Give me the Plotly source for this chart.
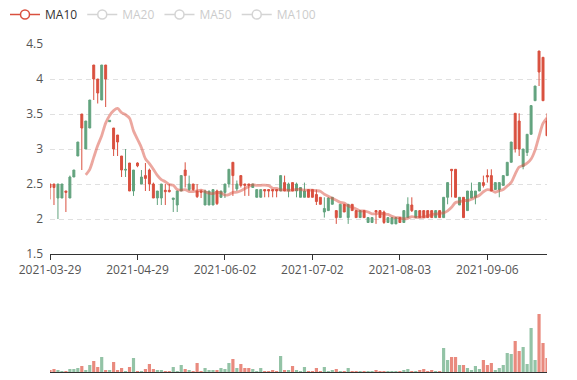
import plotly.graph_objects as go
import pandas as pd

# ---------------- data ----------------
holidays = ['2021-04-05', '2021-05-03', '2021-05-04', '2021-08-16', '2021-08-17']
dates = [d.strftime('%Y-%m-%d') for d in pd.bdate_range('2021-03-29', '2021-09-27')
         if d.strftime('%Y-%m-%d') not in holidays]

tick_labels = ['2021-03-29', '2021-04-29', '2021-06-02', '2021-07-02', '2021-08-03', '2021-09-06']

open_ = [2.45, 2.45, 2.50, 2.50, 2.38, 2.60, 2.70, 3.10, 3.30, 3.40,
         3.70, 4.00, 3.80, 4.20, 4.00, 3.41, 3.00, 3.10, 2.70, 2.71,
         2.40, 2.70, 2.76, 2.60, 2.58, 2.50, 2.30, 2.40, 2.50, 2.39,
         2.39, 2.30, 2.40, 2.62, 2.62, 2.50, 2.42, 2.32, 2.38, 2.40,
         2.40, 2.42, 2.22, 2.40, 2.50, 2.71, 2.62, 2.50, 2.48, 2.48,
         2.48, 2.50, 2.42, 2.42, 2.40, 2.40, 2.40, 2.40, 2.62, 2.40,
         2.50, 2.40, 2.50, 2.45, 2.40, 2.31, 2.31, 2.25, 2.21, 2.15,
         2.30, 2.31, 2.02, 2.21, 2.10, 2.21, 2.12, 2.02, 2.12, 2.02,
         2.02, 2.02, 2.10, 2.02, 1.95, 2.02, 2.02, 2.02, 1.95, 2.12,
         2.21, 2.12, 2.12, 2.02, 2.02, 2.02, 2.02, 2.12, 2.02, 2.31,
         2.52, 2.69, 2.31, 2.31, 2.02, 2.40, 2.40, 2.40, 2.52, 2.48,
         2.60, 2.40, 2.52, 2.52, 2.62, 2.81, 3.10, 3.00, 3.00, 3.00,
         3.21, 3.62, 3.90, 4.10, 3.69, 3.19]
high = [2.50, 2.50, 2.50, 2.50, 2.40, 2.62, 2.70, 3.10, 3.50, 3.40,
        3.70, 4.20, 4.00, 4.20, 4.20, 3.41, 3.30, 3.20, 2.90, 3.00,
        2.80, 2.70, 2.81, 2.70, 2.80, 2.72, 2.52, 2.40, 2.50, 2.50,
        2.50, 2.30, 2.40, 2.62, 2.81, 2.62, 2.50, 2.50, 2.42, 2.42,
        2.40, 2.42, 2.42, 2.40, 2.50, 2.71, 2.81, 2.55, 2.62, 2.50,
        2.50, 2.50, 2.42, 2.42, 2.42, 2.42, 2.42, 2.42, 2.62, 2.62,
        2.52, 2.52, 2.52, 2.45, 2.52, 2.42, 2.42, 2.42, 2.31, 2.31,
        2.31, 2.31, 2.12, 2.21, 2.21, 2.21, 2.21, 2.12, 2.12, 2.12,
        2.02, 2.02, 2.12, 2.12, 2.12, 2.02, 2.02, 2.02, 2.02, 2.12,
        2.31, 2.31, 2.12, 2.12, 2.12, 2.12, 2.12, 2.12, 2.12, 2.31,
        2.52, 2.71, 2.71, 2.31, 2.31, 2.40, 2.52, 2.40, 2.52, 2.62,
        2.71, 2.71, 2.52, 2.52, 2.62, 2.81, 3.10, 3.51, 3.51, 3.00,
        3.21, 3.62, 3.90, 4.40, 4.31, 3.51]
low = [2.28, 2.20, 2.00, 2.30, 2.10, 2.30, 2.60, 2.90, 2.70, 3.00,
       3.30, 3.70, 3.65, 3.70, 3.60, 3.39, 2.90, 2.90, 2.60, 2.60,
       2.40, 2.33, 2.74, 2.50, 2.40, 2.40, 2.30, 2.20, 2.20, 2.20,
       2.38, 2.10, 2.10, 2.40, 2.45, 2.40, 2.40, 2.30, 2.30, 2.20,
       2.20, 2.20, 2.20, 2.30, 2.30, 2.45, 2.33, 2.40, 2.45, 2.33,
       2.33, 2.45, 2.31, 2.31, 2.31, 2.31, 2.31, 2.31, 2.40, 2.40,
       2.31, 2.40, 2.31, 2.31, 2.31, 2.31, 2.31, 2.20, 2.21, 2.02,
       2.12, 2.21, 1.93, 2.02, 2.10, 1.93, 2.12, 2.02, 2.02, 2.02,
       1.95, 1.95, 1.93, 2.02, 1.93, 1.95, 1.93, 1.93, 1.95, 1.95,
       2.02, 2.10, 2.02, 2.02, 2.02, 2.02, 2.02, 2.02, 2.02, 2.02,
       2.21, 2.31, 2.31, 2.20, 2.02, 2.12, 2.30, 2.21, 2.40, 2.45,
       2.52, 2.40, 2.42, 2.31, 2.48, 2.62, 2.81, 2.95, 2.90, 2.71,
       2.90, 3.21, 3.69, 3.90, 3.69, 3.19]
close = [2.50, 2.50, 2.30, 2.30, 2.40, 2.30, 2.60, 2.90, 3.50, 3.00,
         3.30, 4.20, 4.00, 3.70, 4.20, 3.39, 3.30, 3.20, 2.90, 2.70,
         2.80, 2.40, 2.80, 2.50, 2.62, 2.70, 2.50, 2.30, 2.30, 2.41,
         2.41, 2.28, 2.20, 2.40, 2.70, 2.42, 2.50, 2.40, 2.40, 2.20,
         2.20, 2.20, 2.40, 2.31, 2.38, 2.50, 2.81, 2.43, 2.62, 2.50,
         2.50, 2.45, 2.31, 2.31, 2.42, 2.42, 2.42, 2.42, 2.40, 2.52,
         2.40, 2.52, 2.40, 2.31, 2.31, 2.42, 2.42, 2.35, 2.31, 2.10,
         2.12, 2.21, 2.12, 2.02, 2.21, 2.02, 2.21, 2.12, 2.02, 2.12,
         1.95, 1.95, 2.12, 2.12, 2.10, 1.95, 1.93, 1.93, 2.02, 1.95,
         2.02, 2.20, 2.02, 2.12, 2.12, 2.12, 2.12, 2.02, 2.12, 2.02,
         2.31, 2.71, 2.71, 2.20, 2.31, 2.12, 2.30, 2.31, 2.40, 2.52,
         2.62, 2.62, 2.42, 2.42, 2.48, 2.62, 2.81, 3.51, 3.40, 2.75,
         2.95, 3.21, 3.69, 4.40, 4.31, 3.40]
# volume, millions
volume = [0.2, 0.3, 0.2, 0.1, 0.1, 0.3, 0.3, 0.4, 0.6, 0.2,
          0.7, 1.1, 0.5, 1.5, 0.2, 0.2, 1.0, 0.2, 0.4, 0.1,
          0.5, 1.4, 0.1, 0.05, 0.3, 0.8, 0.3, 0.2, 0.2, 0.1,
          0.1, 0.5, 0.1, 0.7, 0.3, 0.2, 0.1, 0.9, 0.05, 0.4,
          0.2, 0.2, 0.2, 0.4, 0.3, 0.9, 1.3, 0.4, 0.8, 0.4,
          0.4, 0.3, 0.1, 0.4, 0.05, 0.1, 0.15, 0.1, 1.6, 0.2,
          0.2, 0.6, 0.2, 0.1, 0.5, 0.1, 0.1, 0.4, 0.1, 0.5,
          0.1, 0.2, 0.3, 0.1, 0.03, 0.4, 0.03, 0.1, 0.1, 0.03,
          0.03, 0.1, 0.2, 0.1, 0.03, 0.1, 0.03, 0.03, 0.1, 0.2,
          0.3, 0.1, 0.03, 0.2, 0.3, 0.1, 0.2, 0.1, 0.03, 2.4,
          1.2, 1.5, 1.5, 0.7, 0.7, 0.4, 0.2, 0.6, 0.3, 1.2,
          0.7, 0.9, 0.2, 0.4, 0.7, 1.9, 1.8, 3.1, 2.1, 2.5,
          0.8, 4.4, 1.2, 5.8, 2.9, 1.4]

ma_windows = [10, 20, 50, 100]

# ---------------- styles ----------------
UP = '#d9503f'
DOWN = '#62a37e'
UP_VOL = '#e98a7e'
DOWN_VOL = '#93c3a6'
MA_LINE = 'rgba(217,80,63,0.5)'

closes = pd.Series(close)
ma = {n: closes.rolling(n).mean() for n in ma_windows}

fig = go.Figure()

fig.add_trace(go.Candlestick(
    x=dates, open=open_, high=high, low=low, close=close,
    increasing=dict(line=dict(color=UP, width=1), fillcolor=UP),
    decreasing=dict(line=dict(color=DOWN, width=1), fillcolor=DOWN),
    whiskerwidth=0, showlegend=False, name='K', xaxis='x', yaxis='y'))

fig.add_trace(go.Scatter(
    x=dates, y=ma[10], mode='lines', name='MA10', legendgroup='MA10',
    line=dict(color=MA_LINE, width=2.8, shape='spline', smoothing=0.8),
    showlegend=False, hoverinfo='skip', xaxis='x', yaxis='y'))

# legend entry for MA10 (solid icon as in the original legend)
fig.add_trace(go.Scatter(
    x=[None], y=[None], mode='lines+markers', name='MA10', legendgroup='MA10',
    line=dict(color=UP, width=1.5),
    marker=dict(symbol='circle', size=9, color='white', line=dict(color=UP, width=1.5)),
    xaxis='x', yaxis='y'))

for n in ma_windows[1:]:
    fig.add_trace(go.Scatter(
        x=dates, y=ma[n], mode='lines+markers', visible='legendonly',
        name="<span style='color:#999'>MA%d</span>" % n,
        line=dict(color='#aaa', width=1.5),
        marker=dict(symbol='circle', size=9, color='white', line=dict(color='#aaa', width=1.5), maxdisplayed=1),
        xaxis='x', yaxis='y'))

vol_colors = [UP_VOL if c >= o else DOWN_VOL for o, c in zip(open_, close)]
fig.add_trace(go.Bar(
    x=dates, y=volume, marker=dict(color=vol_colors, line=dict(width=0)),
    showlegend=False, name='Volume', xaxis='x2', yaxis='y2'))

H = 380.0
fig.update_layout(
    width=577, height=380,
    margin=dict(l=50, r=30, t=0, b=0, autoexpand=False),
    paper_bgcolor='white', plot_bgcolor='white',
    font=dict(family='Open Sans, sans-serif', size=12, color='#333'),
    bargap=0.2,
    legend=dict(orientation='h', xref='container', yref='container',
                x=5 / 577, y=1.0, xanchor='left', yanchor='top',
                font=dict(size=12, color='#333'), itemwidth=30,
                bgcolor='rgba(0,0,0,0)'),
    xaxis=dict(type='category', domain=[0, 1], anchor='y', range=[0, len(dates) - 1],
               tickmode='array', tickvals=tick_labels, ticktext=tick_labels,
               ticks='outside', ticklen=5, tickcolor='#333', tickwidth=1,
               showline=True, linecolor='#333', linewidth=1, showgrid=False,
               tickfont=dict(size=12, color='#555'),
               rangeslider=dict(visible=False)),
    yaxis=dict(domain=[(H - 254) / H, (H - 44) / H], range=[1.5, 4.5],
               tick0=1.5, dtick=0.5, showgrid=True, gridcolor='#e0e0e0',
               griddash='5px,4px', gridwidth=1, zeroline=False, showline=False,
               ticks='', ticklabelstandoff=6, tickfont=dict(size=12, color='#555')),
    xaxis2=dict(type='category', domain=[0, 1], anchor='y2', matches='x',
                showticklabels=False, ticks='', showline=True, linecolor='#333',
                linewidth=1, showgrid=False, rangeslider=dict(visible=False)),
    yaxis2=dict(domain=[(H - 372) / H, (H - 300) / H], range=[0, 7.2],
                showgrid=False, showticklabels=False, zeroline=False, showline=False),
)

fig.write_html("out.html", config={'displayModeBar': False},
               post_script="document.body.style.margin='0';")
